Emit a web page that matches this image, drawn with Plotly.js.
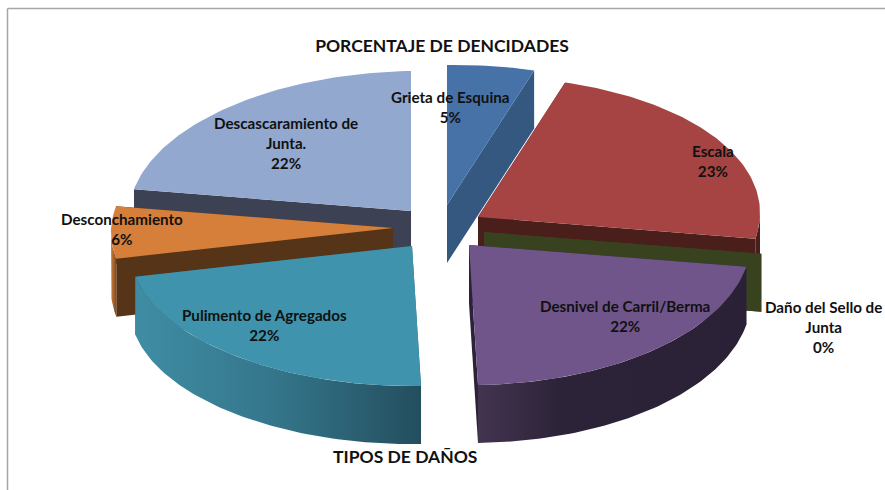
<!DOCTYPE html>
<html>
<head>
<meta charset="utf-8">
<script src="https://cdn.plot.ly/plotly-3.0.1.min.js"></script>
<style>html,body{margin:0;padding:0;background:#fff}#chart{width:885px;height:490px}</style>
</head>
<body>
<div id="chart"></div>
<script>
// Data, clockwise from twelve o'clock
const categories = ["Grieta de Esquina","Escala","Daño del Sello de Junta","Desnivel de Carril/Berma","Pulimento de Agregados","Desconchamiento","Descascaramiento de Junta."];
const values = [5,23,0,22,22,6,22];

// Styles
const topColors  = ["#4672a8","#a54442","#7f9a48","#6f558a","#3f93ac","#d67f3a","#93a8cf"];
const faceColors = ["#345880","#4a1f1b","#38421f","#2d2339","#2a6274","#563418","#3c4254"];
const wallFrom   = ["#345880","#4a1f1b","#38421f","#433450","#3f8da4","#c87836","#3c4254"];
const wallMid    = ["#345880","#4a1f1b","#38421f","#2d2339","#34758a","#a8642c","#3c4254"];
const wallTo     = ["#345880","#4a1f1b","#38421f","#2b2136","#234e5e","#7a4820","#3c4254"];

// Each exploded slice's apex on the page
const apexX = [447,478,484,469,412,393,411];
const apexY = [205,217,232,245,246,228,211];
const labelX = [450,713,823,625,264,122,286];
const labelY = [107,161,327,316,325,229,143];
const labelText = ["Grieta de Esquina<br>5%","Escala<br>23%","Daño del Sello de<br>Junta<br>0%","Desnivel de Carril/Berma<br>22%","Pulimento de Agregados<br>22%","Desconchamiento<br>6%","Descascaramiento de<br>Junta.<br>22%"];

// Projection of the tilted pie
const RX = 282, RY = 140, DEPTH = 58, SHEAR = 9, TILT = 0.016;
const total = values.reduce((a,b)=>a+b,0);
function project(i, angle, r, drop){
  const dx = RX*r*Math.sin(angle), dy = -RY*r*Math.cos(angle);
  const s = Math.max(dy,0)/RY;
  return [apexX[i]+dx+SHEAR*s*s, apexY[i]+dy-TILT*dx+drop];
}
function arc(i,a0,a1,drop){
  const n = Math.max(2,Math.ceil(Math.abs(a1-a0)/0.02)), pts=[];
  for(let k=0;k<=n;k++) pts.push(project(i,a0+(a1-a0)*k/n,1,drop));
  return pts;
}
function poly(pts,color,name,hover,grad){
  const t = {type:"scatter",mode:"lines",x:pts.map(p=>p[0]),y:pts.map(p=>p[1]),fill:"toself",
    line:{width:0,color:color},fillcolor:color,name:name,showlegend:false,
    hoverinfo:hover?"text":"skip",text:hover||undefined};
  if(grad) t.fillgradient={type:"horizontal",colorscale:grad};
  return t;
}

// Slice angles
const starts=[]; let run=0;
values.forEach(v=>{starts.push(run/total*2*Math.PI); run+=v;});
const ends = values.map((v,i)=>starts[i]+v/total*2*Math.PI);

// Painter's order: back slices first
const order=[6,0,1,2,5,4,3];
const traces=[];
order.forEach(i=>{
  const a0=starts[i], a1=ends[i], nm=categories[i];
  const apex=project(i,0,0,0), apexD=project(i,0,0,DEPTH);
  [a1,a0].forEach(a=>{
    const p=project(i,a,1,0), q=project(i,a,1,DEPTH);
    traces.push(poly([apex,p,q,apexD,apex],faceColors[i],nm));
  });
  const lo=Math.max(a0,Math.PI/2), hi=Math.min(a1,3*Math.PI/2);
  if(hi>lo){
    const top=arc(i,lo,hi,0), bot=arc(i,hi,lo,DEPTH);
    const stopMid = i===3 ? 0.3 : 0.5;
    traces.push(poly(top.concat(bot,[top[0]]),wallFrom[i],nm,null,[[0,wallFrom[i]],[stopMid,wallMid[i]],[1,wallTo[i]]]));
  }
  if(values[i]>0){
    traces.push(poly([apex].concat(arc(i,a0,a1,0),[apex]),topColors[i],nm,nm+": "+values[i]+"%"));
  }
});

const labelFont={family:"Lato, Carlito, sans-serif",size:15.2,color:"#111"};
const annotations=labelText.map((t,i)=>({x:labelX[i],y:labelY[i],xref:"x",yref:"y",text:"<b>"+t+"</b>",showarrow:false,font:labelFont,align:"center",xanchor:"center",yanchor:"middle"}));
annotations.push({x:405,y:456,xref:"x",yref:"y",text:"<b>TIPOS DE DAÑOS</b>",showarrow:false,font:{family:"Lato, sans-serif",size:17.5,color:"#111"},xanchor:"center",yanchor:"middle"});

const layout={
  width:885,height:490,margin:{l:0,r:0,t:0,b:0},paper_bgcolor:"#fff",plot_bgcolor:"#fff",
  title:{text:"<b>PORCENTAJE DE DENCIDADES</b>",font:{family:"Lato, sans-serif",size:17.5,color:"#111"},x:442/885,xanchor:"center",y:1-46/490,yanchor:"middle"},
  xaxis:{range:[0,885],visible:false,fixedrange:true},
  yaxis:{range:[490,0],visible:false,fixedrange:true},
  showlegend:false,annotations:annotations,
  shapes:[
    {type:"line",xref:"paper",yref:"paper",x0:7.5/885,x1:7.5/885,y0:1-8.5/490,y1:0,line:{color:"#a6a6a6",width:1.5}},
    {type:"line",xref:"paper",yref:"paper",x0:7.5/885,x1:1,y0:1-8.5/490,y1:1-8.5/490,line:{color:"#a6a6a6",width:1.5}}
  ]
};
Plotly.newPlot("chart",traces,layout,{displayModeBar:false});
</script>
</body>
</html>
